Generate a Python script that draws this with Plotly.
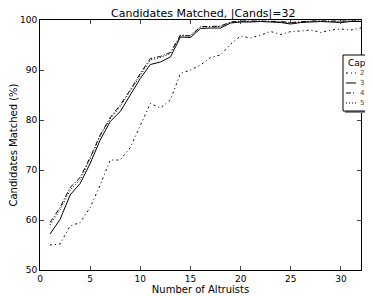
import plotly.graph_objects as go

altruists = list(range(1, 33))
cap2 = [55.0, 55.2, 58.8, 59.5, 62.5, 67.0, 72.0, 72.0, 74.5, 79.0, 83.3, 82.4, 84.0, 89.3, 90.0, 91.0,
        92.5, 93.0, 95.2, 96.8, 96.4, 97.0, 97.7, 97.1, 97.7, 97.8, 98.0, 97.5, 98.0, 98.2, 98.0, 98.4]
cap3 = [57.2, 60.1, 65.0, 67.3, 71.3, 76.0, 79.7, 81.7, 85.0, 88.3, 91.1, 91.6, 92.6, 96.6, 96.5, 98.3,
        98.4, 98.4, 99.4, 99.6, 99.6, 99.7, 99.6, 99.5, 99.2, 99.5, 99.6, 99.7, 99.6, 99.5, 99.7, 99.7]
cap4 = [59.5, 62.5, 66.5, 68.5, 72.5, 77.0, 80.5, 83.0, 86.0, 89.3, 92.3, 92.7, 93.5, 97.0, 96.8, 98.7,
        98.7, 98.8, 99.6, 99.8, 99.8, 99.8, 99.8, 99.7, 99.5, 99.7, 99.8, 99.8, 99.8, 99.7, 99.8, 99.8]
cap5 = [59.0, 62.0, 66.0, 68.0, 72.2, 76.8, 80.2, 82.7, 85.8, 89.0, 92.0, 92.5, 93.3, 96.8, 96.9, 98.6,
        98.6, 98.7, 99.5, 99.7, 99.7, 99.8, 99.7, 99.6, 99.4, 99.6, 99.7, 99.8, 99.7, 99.6, 99.8, 99.8]
cap_names = ["2", "3", "4", "5"]
dashes = ["2px,3px,1px,3px", "solid", "5px,2px,1px,2px", "1px,2px"]
all_series = [cap2, cap3, cap4, cap5]

fig = go.Figure()
for name, vals, dash in zip(cap_names, all_series, dashes):
    fig.add_trace(go.Scatter(x=altruists, y=vals, mode="lines", name=name, showlegend=False,
                             line=dict(color="black", width=1, dash=dash)))

# manual legend (matplotlib style, running off the right edge)
def px(x):
    return (x - 40) / 321.0

def py(y):
    return (270 - y) / 250.0

shapes = [
    dict(type="rect", xref="paper", yref="paper", x0=px(345), x1=px(375), y0=py(113), y1=py(57),
         fillcolor="#888888", line=dict(width=0)),
    dict(type="rect", xref="paper", yref="paper", x0=px(343), x1=px(373), y0=py(111), y1=py(55),
         fillcolor="white", line=dict(color="black", width=1)),
]
annotations = [
    dict(xref="paper", yref="paper", x=px(346), y=py(63), text="Cap", showarrow=False,
         xanchor="left", yanchor="middle", font=dict(size=9, color="black")),
]
entry_y = [73, 83, 93, 103]
for name, dash, ey in zip(cap_names, dashes, entry_y):
    shapes.append(dict(type="line", xref="paper", yref="paper", x0=px(346), x1=px(356),
                       y0=py(ey), y1=py(ey), line=dict(color="black", width=1, dash=dash)))
    annotations.append(dict(xref="paper", yref="paper", x=px(358), y=py(ey), text=name,
                            showarrow=False, xanchor="left", yanchor="middle",
                            font=dict(size=7, color="#444444")))

fig.update_layout(
    width=365, height=288,
    margin=dict(l=32, r=12, t=12, b=26, autoexpand=False),
    paper_bgcolor="white", plot_bgcolor="white",
    font=dict(family="DejaVu Sans", size=9, color="black"),
    title=dict(text="Candidates Matched, |Cands|=32", x=0.535, xanchor="center",
               y=0.995, yanchor="top", font=dict(size=11)),
    xaxis=dict(range=[0, 32], tickvals=[0, 5, 10, 15, 20, 25, 30], ticks="inside", ticklen=4,
               mirror="ticks", showline=True, linecolor="black", linewidth=1, showgrid=False,
               zeroline=False, title=dict(text="Number of Altruists", standoff=0, font=dict(size=10))),
    yaxis=dict(range=[50, 100], tickvals=[50, 60, 70, 80, 90, 100], ticks="inside", ticklen=4,
               mirror="ticks", showline=True, linecolor="black", linewidth=1, showgrid=False,
               zeroline=False, title=dict(text="Candidates Matched (%)", standoff=3, font=dict(size=10))),
    shapes=shapes,
    annotations=annotations,
)

fig.write_html("out.html")
